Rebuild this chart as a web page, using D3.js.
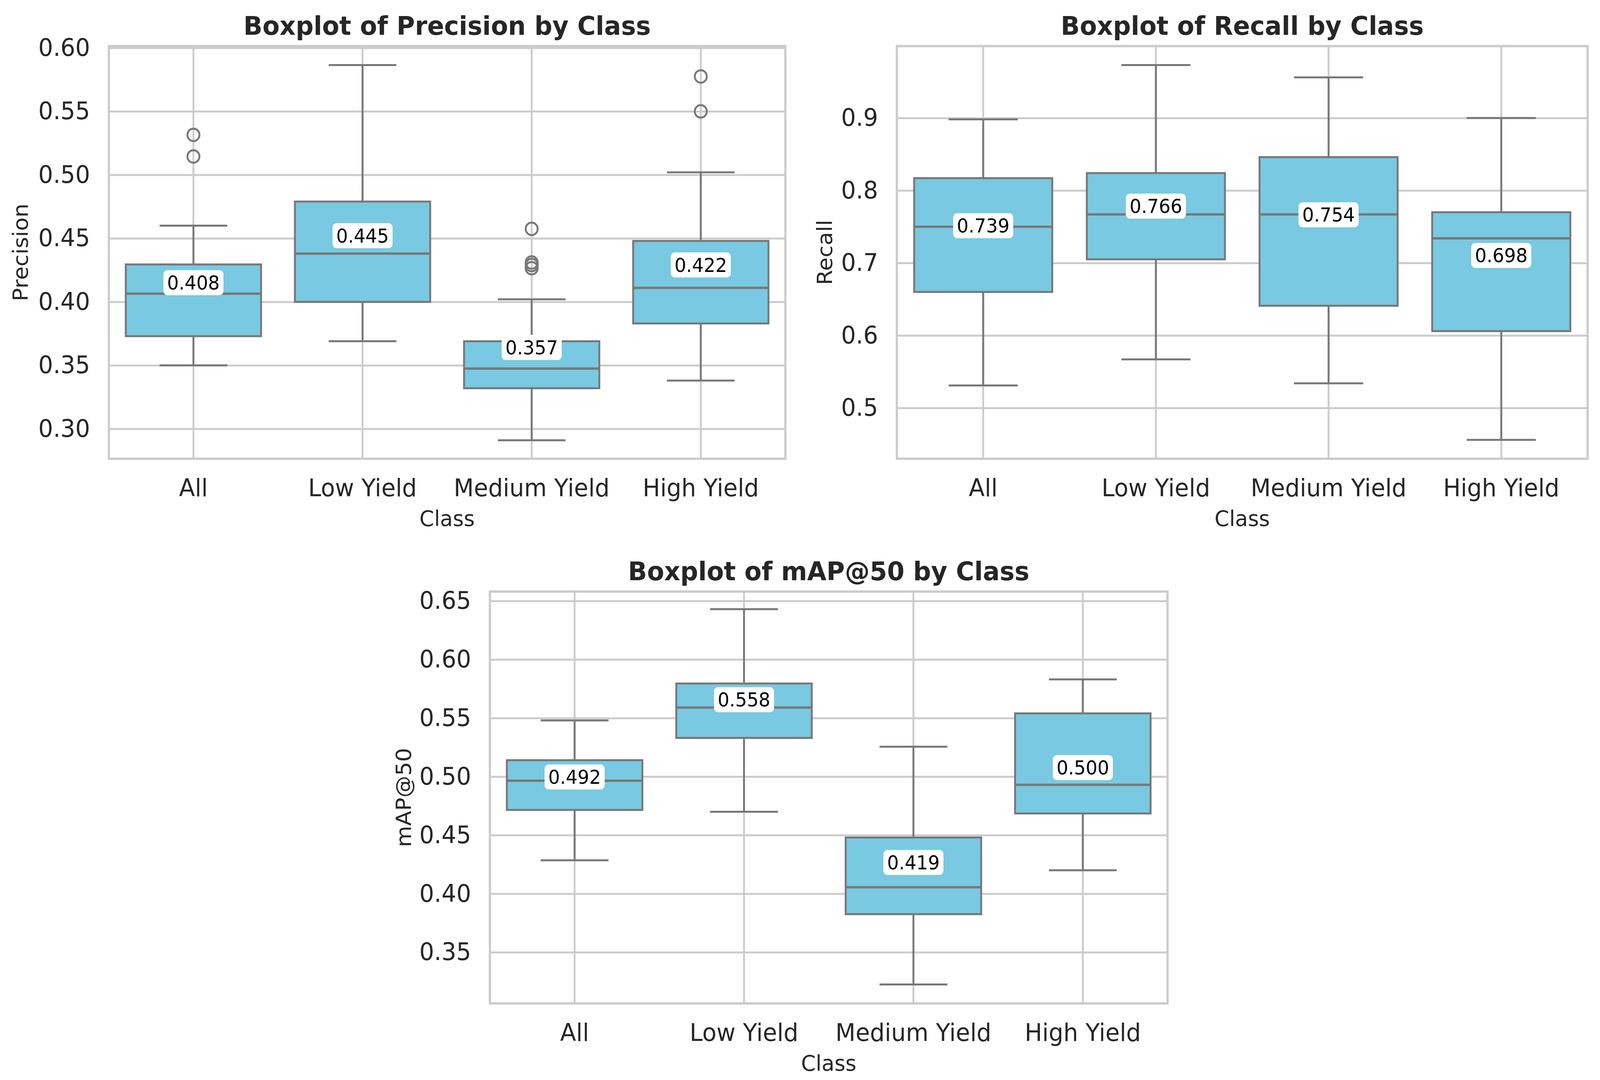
<!DOCTYPE html>
<html><head><meta charset="utf-8">
<script src="https://cdnjs.cloudflare.com/ajax/libs/d3/7.8.5/d3.min.js"></script>
<style>html,body{margin:0;padding:0;background:#fff;overflow:hidden}svg{display:block;width:100vw;height:100vh}text{font-family:"DejaVu Sans",sans-serif}</style>
</head><body>
<script>
const categories = ["All","Low Yield","Medium Yield","High Yield"];

const precisionTicks = [0.30,0.35,0.40,0.45,0.50,0.55,0.60];
const precisionLow  = [0.350,0.369,0.291,0.338];
const precisionQ1   = [0.373,0.400,0.332,0.383];
const precisionMed  = [0.4065,0.438,0.3475,0.411];
const precisionQ3   = [0.4295,0.479,0.369,0.448];
const precisionHigh = [0.460,0.5865,0.402,0.502];
const precisionMean = [0.408,0.445,0.357,0.422];
const precisionFliers = [[0.5315,0.5145],[],[0.4575,0.431,0.429,0.4265],[0.5775,0.550]];

const recallTicks = [0.5,0.6,0.7,0.8,0.9];
const recallLow  = [0.531,0.567,0.534,0.456];
const recallQ1   = [0.660,0.705,0.641,0.606];
const recallMed  = [0.750,0.767,0.767,0.734];
const recallQ3   = [0.817,0.824,0.846,0.770];
const recallHigh = [0.898,0.973,0.956,0.900];
const recallMean = [0.739,0.766,0.754,0.698];
const recallFliers = [[],[],[],[]];

const mapTicks = [0.35,0.40,0.45,0.50,0.55,0.60,0.65];
const mapLow  = [0.4285,0.470,0.3225,0.420];
const mapQ1   = [0.4715,0.533,0.3825,0.4685];
const mapMed  = [0.4965,0.559,0.4055,0.493];
const mapQ3   = [0.514,0.5795,0.448,0.554];
const mapHigh = [0.548,0.643,0.5255,0.583];
const mapMean = [0.492,0.558,0.419,0.500];
const mapFliers = [[],[],[],[]];

const W = 4262, H = 2764;
const INK = "#262626", GRID = "#cccccc", LINE = "#777777", FILL = "#78c9e1";

const panels = [
 {title:"Boxplot of Precision by Class", ylabel:"Precision", ticks:precisionTicks, fmt:".2f",
  low:precisionLow,q1:precisionQ1,med:precisionMed,q3:precisionQ3,high:precisionHigh,mean:precisionMean,fliers:precisionFliers,
  box:[290,118,2092,1174], dom:[0.2765,0.6014], ylabelX:54},
 {title:"Boxplot of Recall by Class", ylabel:"Recall", ticks:recallTicks, fmt:".1f",
  low:recallLow,q1:recallQ1,med:recallMed,q3:recallQ3,high:recallHigh,mean:recallMean,fliers:recallFliers,
  box:[2389,118,4229,1174], dom:[0.430,0.9991], ylabelX:2196},
 {title:"Boxplot of mAP@50 by Class", ylabel:"mAP@50", ticks:mapTicks, fmt:".2f",
  low:mapLow,q1:mapQ1,med:mapMed,q3:mapQ3,high:mapHigh,mean:mapMean,fliers:mapFliers,
  box:[1305,1514,3110,2568], dom:[0.3063,0.658], ylabelX:1074}
];

const svg = d3.select("body").append("svg").attr("viewBox",`0 0 ${W} ${H}`).attr("preserveAspectRatio","none");
svg.append("rect").attr("width",W).attr("height",H).attr("fill","#fff");

panels.forEach(p=>{
  const [l,t,r,b] = p.box;
  const x = d3.scaleBand().domain(categories).range([l,r]);
  const y = d3.scaleLinear().domain(p.dom).range([b,t]);
  const cx = c => x(c)+x.bandwidth()/2;
  const g = svg.append("g");

  const yAxis = d3.axisLeft(y).tickValues(p.ticks).tickFormat(d3.format(p.fmt)).tickSize(-(r-l)).tickPadding(50);
  const xAxis = d3.axisBottom(x).tickSize(-(b-t)).tickPadding(52);
  const gy = g.append("g").attr("transform",`translate(${l},0)`).call(yAxis);
  const gx = g.append("g").attr("transform",`translate(0,${b})`).call(xAxis);
  [gy,gx].forEach(a=>{
    a.select(".domain").remove();
    a.selectAll(".tick line").attr("stroke",GRID).attr("stroke-width",5);
    a.selectAll(".tick text").attr("fill",INK).attr("font-size",62).attr("font-family","DejaVu Sans");
  });

  const groups = g.selectAll("g.box").data(categories).join("g").attr("class","box");
  const bw = x.bandwidth()*0.8, cap = x.bandwidth()*0.4;
  groups.each(function(c,i){
    const s = d3.select(this), X = cx(c);
    const line = (x1,y1,x2,y2,w=5)=>s.append("line").attr("x1",x1).attr("y1",y1).attr("x2",x2).attr("y2",y2).attr("stroke",LINE).attr("stroke-width",w);
    line(X,y(p.low[i]),X,y(p.q1[i]));
    line(X,y(p.q3[i]),X,y(p.high[i]));
    line(X-cap/2,y(p.low[i]),X+cap/2,y(p.low[i]));
    line(X-cap/2,y(p.high[i]),X+cap/2,y(p.high[i]));
    s.append("rect").attr("x",X-bw/2).attr("width",bw).attr("y",y(p.q3[i])).attr("height",y(p.q1[i])-y(p.q3[i]))
      .attr("fill",FILL).attr("stroke",LINE).attr("stroke-width",5);
    line(X-bw/2,y(p.med[i]),X+bw/2,y(p.med[i]),6);
    s.selectAll("circle").data(p.fliers[i]).join("circle").attr("cx",X).attr("cy",d=>y(d)).attr("r",16)
      .attr("fill","none").attr("stroke",LINE).attr("stroke-width",5);
  });

  g.append("rect").attr("x",l).attr("y",t).attr("width",r-l).attr("height",b-t).attr("fill","none").attr("stroke",GRID).attr("stroke-width",6);

  const fmt = d3.format(".3f");
  const labels = g.selectAll("g.lab").data(categories).join("g").attr("class","lab")
    .attr("transform",(c,i)=>`translate(${cx(c)},${y(p.mean[i])-23})`);
  labels.append("rect").attr("x",-80).attr("y",-32).attr("width",160).attr("height",64).attr("rx",11).attr("fill","#fff");
  labels.append("text").attr("text-anchor","middle").attr("dy","0.36em").attr("font-size",49).attr("fill","#000")
    .text((c,i)=>fmt(p.mean[i]));

  const mid = (l+r)/2;
  g.append("text").attr("x",mid).attr("y",t-53).attr("dy","0.36em").attr("text-anchor","middle")
    .attr("font-weight","bold").attr("font-size",66.5).attr("fill",INK).text(p.title);
  g.append("text").attr("x",mid).attr("y",b+152).attr("dy","0.36em").attr("text-anchor","middle")
    .attr("font-size",56).attr("fill",INK).text("Class");
  g.append("text").attr("transform",`translate(${p.ylabelX},${(t+b)/2}) rotate(-90)`).attr("dy","0.36em").attr("text-anchor","middle")
    .attr("font-size",56).attr("fill",INK).text(p.ylabel);
});
</script>
</body></html>
